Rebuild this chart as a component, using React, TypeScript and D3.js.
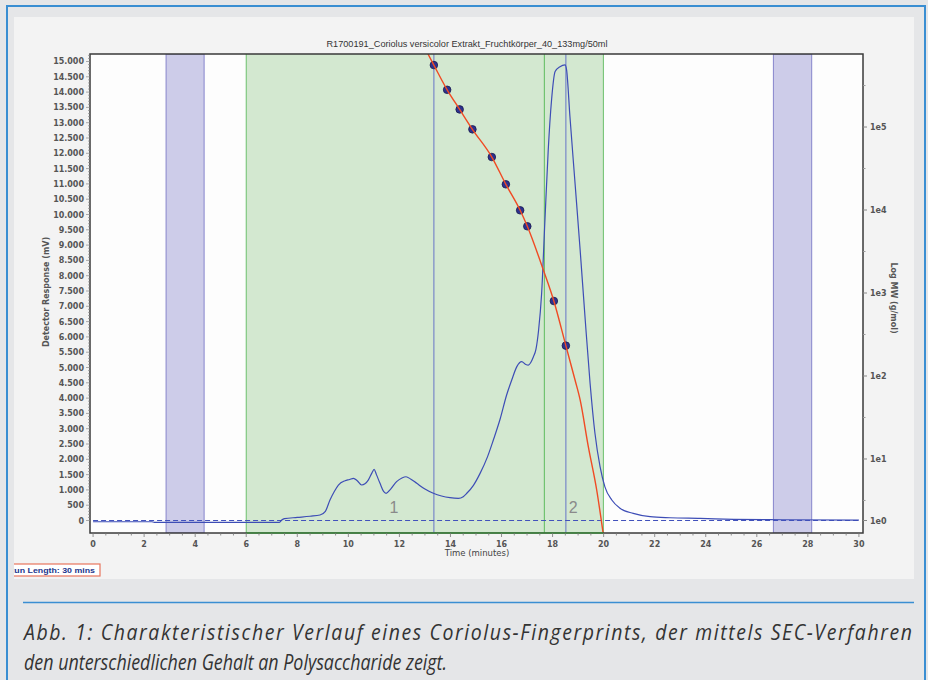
// SEC-Chromatogramm Coriolus versicolor mit Kalibrierkurve (log MW)
import { useRef, useEffect } from 'react'
import * as d3 from 'd3'

const TITLE = 'R1700191_Coriolus versicolor Extrakt_Fruchtkörper_40_133mg/50ml'
const CAPTION_1 = 'Abb. 1: Charakteristischer Verlauf eines Coriolus-Fingerprints, der mittels SEC-Verfahren'
const CAPTION_2 = 'den unterschiedlichen Gehalt an Polysaccharide zeigt.'
const RUN_LENGTH = 'Run Length: 30 mins'

// Detektorsignal: Zeit (min) / mV
const traceTime = [0, 2.3, 2.4, 7.3, 7.39, 7.5, 8.0, 8.5, 8.89, 9.1, 9.28, 9.45, 9.61, 9.87, 10.05, 10.2, 10.35, 10.52, 10.65, 10.78, 10.92, 11.01, 11.1, 11.24, 11.38, 11.48, 11.65, 11.89, 12.1, 12.26, 12.45, 12.68, 13.0, 13.33, 13.65, 13.98, 14.31, 14.5, 14.64, 14.9, 15.16, 15.45, 15.68, 15.94, 16.2, 16.4, 16.6, 16.79, 16.95, 17.05, 17.25, 17.35, 17.45, 17.57, 17.7, 17.83, 17.96, 18.1, 18.29, 18.49, 18.55, 18.68, 18.88, 19.08, 19.27, 19.47, 19.66, 19.86, 20.05, 20.32, 20.64, 21.16, 21.82, 22.6, 23.78, 25.1, 27, 30]
const traceMv = [-40, -40, -60, -60, 15, 60, 100, 140, 180, 300, 670, 950, 1160, 1300, 1340, 1380, 1300, 1160, 1200, 1320, 1550, 1670, 1500, 1215, 950, 890, 1020, 1270, 1390, 1430, 1350, 1215, 1030, 890, 800, 745, 725, 780, 890, 1150, 1540, 2080, 2630, 3300, 4100, 4590, 5030, 5190, 5100, 5080, 5350, 5600, 6200, 7400, 9800, 12110, 13740, 14670, 14830, 14890, 14720, 13200, 11020, 8840, 6660, 4480, 2850, 1760, 1100, 670, 400, 235, 125, 90, 70, 40, 25, 15]

// Kalibrierstandards (Punkte)
const stdTime = [13.35, 13.87, 14.36, 14.86, 15.62, 16.17, 16.73, 17.01, 18.05, 18.52]
const stdMw = [558000, 281000, 163000, 93800, 43500, 20400, 9920, 6370, 801, 232]

// Kalibrierkurve (Fit)
const fitTime = [13.12, 13.35, 13.87, 14.36, 14.86, 15.62, 16.17, 16.73, 17.01, 17.64, 18.05, 18.52, 18.88, 19.08, 19.4, 19.73, 19.98]
const fitMw = [758000, 558000, 281000, 163000, 93800, 43500, 20400, 9920, 6370, 1890, 801, 232, 89.5, 51.4, 14.1, 4.2, 1.28]

const timeTicks = [0, 2, 4, 6, 8, 10, 12, 14, 16, 18, 20, 22, 24, 26, 28, 30]
const mvTicks = d3.range(0, 15001, 500)
const mwTicks = [1e1, 1e2, 1e3, 1e4, 1e5]
const mwMinor = [10 ** 0.5, 10 ** 1.5, 10 ** 2.5, 10 ** 3.5, 10 ** 4.5, 10 ** 5.5]

// Peakbereiche, Marker, ausgeschlossene Bereiche
const peakFrom = [6, 17.68]
const peakTo = [17.68, 19.99]
const peakNames = ['1', '2']
const peakLabelTime = [11.79, 18.81]
const markerTimes = [13.35, 18.52]
const bandFrom = [2.86, 26.65]
const bandTo = [4.35, 28.15]

const fmtMv = (v: number) => (v >= 1000 ? d3.format(',')(v).replace(',', '.') : String(v))

export default function App() {
  const svgRef = useRef<SVGSVGElement>(null)

  useEffect(() => {
    const W = 928, H = 680
    const pl = 90, pr = 863, pt = 54, pb = 533
    const svg = d3.select(svgRef.current).attr('width', W).attr('height', H)
    svg.selectAll('*').remove()

    const x = d3.scaleLinear().domain([-0.12, 30.16]).range([pl, pr])
    const yL = d3.scaleLinear().domain([-408, 15245]).range([pb, pt])
    const yR = d3.scaleLog().domain([10 ** 0.108, 10 ** 5.88]).range([pb, pt])

    const tickFont = "'DejaVu Sans', sans-serif"

    // Hintergrund + Rahmen
    svg.append('rect').attr('width', W).attr('height', H).attr('fill', '#e5e6e8')
    svg.append('path').attr('d', `M7,${H} V6 H925 V${H}`).attr('fill', 'none')
      .attr('stroke', '#3a8ed2').attr('stroke-width', 2)
    svg.append('rect').attr('x', 14).attr('y', 17).attr('width', 900).attr('height', 562).attr('fill', '#f3f3f3')
    svg.append('rect').attr('x', pl).attr('y', pt).attr('width', pr - pl).attr('height', pb - pt).attr('fill', '#fdfdfd')

    const g = svg.append('g')
    const clip = svg.append('clipPath').attr('id', 'plotclip')
    clip.append('rect').attr('x', pl).attr('y', pt).attr('width', pr - pl).attr('height', pb - pt)
    g.attr('clip-path', 'url(#plotclip)')

    // ausgeschlossene Bereiche (violett)
    bandFrom.forEach((f, i) => {
      g.append('rect').attr('x', x(f)).attr('y', pt).attr('width', x(bandTo[i]) - x(f)).attr('height', pb - pt)
        .attr('fill', '#cdcce9').attr('stroke', '#8785cc').attr('stroke-width', 1)
    })

    // Peakbereiche (grün)
    peakFrom.forEach((f, i) => {
      g.append('rect').attr('x', x(f)).attr('y', pt - 2).attr('width', x(peakTo[i]) - x(f)).attr('height', pb - pt + 2)
        .attr('fill', '#d3e8d0').attr('stroke', '#6cc06c').attr('stroke-width', 1)
    })

    // Markerlinien
    markerTimes.forEach(t => {
      g.append('line').attr('x1', x(t)).attr('x2', x(t)).attr('y1', pt).attr('y2', pb)
        .attr('stroke', '#7f8fc8').attr('stroke-width', 1.3)
    })

    // Basislinie gestrichelt
    g.append('line').attr('x1', x(0)).attr('x2', x(30)).attr('y1', yL(0)).attr('y2', yL(0))
      .attr('stroke', '#4252bc').attr('stroke-width', 1.2).attr('stroke-dasharray', '5,3')

    // Detektorsignal
    const trace = traceTime.map((t, i) => [t, traceMv[i]] as [number, number])
    g.append('path').datum(trace)
      .attr('d', d3.line<[number, number]>().x(d => x(d[0])).y(d => yL(d[1])).curve(d3.curveMonotoneX))
      .attr('fill', 'none').attr('stroke', '#3d4db6').attr('stroke-width', 1.2)

    // Peaknummern
    peakNames.forEach((n, i) => {
      g.append('text').attr('x', x(peakLabelTime[i])).attr('y', 513).attr('text-anchor', 'middle')
        .attr('font-family', "'Liberation Sans', sans-serif").attr('font-size', 16).attr('fill', '#8a8a8a').text(n)
    })

    // Kalibrierstandards
    g.selectAll('circle.std').data(stdTime).join('circle').attr('class', 'std')
      .attr('cx', d => x(d)).attr('cy', (d, i) => yR(stdMw[i])).attr('r', 3.8)
      .attr('fill', '#2c3190').attr('stroke', '#1b1b4d').attr('stroke-width', 0.8)

    // Kalibrierkurve
    const fit = fitTime.map((t, i) => [t, fitMw[i]] as [number, number])
    g.append('path').datum(fit)
      .attr('d', d3.line<[number, number]>().x(d => x(d[0])).y(d => yR(d[1])).curve(d3.curveMonotoneX))
      .attr('fill', 'none').attr('stroke', '#f04a23').attr('stroke-width', 1.4)

    // Plotrahmen
    svg.append('rect').attr('x', pl).attr('y', pt).attr('width', pr - pl).attr('height', pb - pt)
      .attr('fill', 'none').attr('stroke', '#3a3a3a').attr('stroke-width', 1.5)
    peakFrom.forEach((f, i) => {
      svg.append('line').attr('x1', x(f)).attr('x2', x(peakTo[i])).attr('y1', pb).attr('y2', pb)
        .attr('stroke', '#3f8a3f').attr('stroke-width', 1.5)
    })

    // X-Achse
    const xa = svg.append('g').attr('font-family', tickFont).attr('font-size', 8).attr('font-weight', 'bold').attr('fill', '#555')
    d3.range(0, 30.01, 0.5).forEach(t => {
      const major = timeTicks.includes(t)
      xa.append('line').attr('x1', x(t)).attr('x2', x(t)).attr('y1', pb).attr('y2', pb + (major ? 4 : 2.5))
        .attr('stroke', '#777').attr('stroke-width', 0.8)
    })
    timeTicks.forEach(t => {
      xa.append('text').attr('x', x(t)).attr('y', 547).attr('text-anchor', 'middle').text(t)
    })
    svg.append('text').attr('x', 477).attr('y', 556).attr('text-anchor', 'middle')
      .attr('font-family', tickFont).attr('font-size', 8.5).attr('fill', '#444').text('Time (minutes)')

    // linke Achse
    const ya = svg.append('g').attr('font-family', tickFont).attr('font-size', 8).attr('font-weight', 'bold').attr('fill', '#555')
    d3.range(0, 15201, 100).forEach(v => {
      const major = v % 500 === 0
      ya.append('line').attr('x1', pl - (major ? 4 : 2)).attr('x2', pl).attr('y1', yL(v)).attr('y2', yL(v))
        .attr('stroke', '#888').attr('stroke-width', 0.7)
    })
    mvTicks.forEach(v => {
      ya.append('text').attr('x', 84).attr('y', yL(v) + 3).attr('text-anchor', 'end').text(fmtMv(v))
    })
    svg.append('text').attr('transform', `translate(49,292) rotate(-90)`).attr('text-anchor', 'middle')
      .attr('font-family', tickFont).attr('font-size', 8).attr('font-weight', 'bold').attr('fill', '#555')
      .text('Detector Response (mV)')

    // rechte Achse (log MW)
    const ra = svg.append('g').attr('font-family', tickFont).attr('font-size', 8).attr('font-weight', 'bold').attr('fill', '#555')
    mwTicks.forEach(v => {
      ra.append('line').attr('x1', pr).attr('x2', pr + 4).attr('y1', yR(v)).attr('y2', yR(v)).attr('stroke', '#888')
      ra.append('text').attr('x', 870).attr('y', yR(v) + 3).text('1e' + Math.round(Math.log10(v)))
    })
    mwMinor.forEach(v => {
      ra.append('line').attr('x1', pr).attr('x2', pr + 2.5).attr('y1', yR(v)).attr('y2', yR(v)).attr('stroke', '#999')
    })
    // 1e0 an der Basislinie
    ra.append('line').attr('x1', pr).attr('x2', pr + 4).attr('y1', yL(0)).attr('y2', yL(0)).attr('stroke', '#888')
    ra.append('text').attr('x', 870).attr('y', yL(0) + 3).text('1e0')
    svg.append('text').attr('transform', `translate(891,298) rotate(90)`).attr('text-anchor', 'middle')
      .attr('font-family', tickFont).attr('font-size', 8).attr('font-weight', 'bold').attr('fill', '#555')
      .text('Log MW (g/mol)')

    // Titel
    svg.append('text').attr('x', 467).attr('y', 47).attr('text-anchor', 'middle')
      .attr('font-family', "'Liberation Sans', sans-serif").attr('font-size', 9.5).attr('fill', '#333')
      .attr('textLength', 281).attr('lengthAdjust', 'spacingAndGlyphs').text(TITLE)

    // Run Length Box
    const rclip = svg.append('clipPath').attr('id', 'runclip')
    rclip.append('rect').attr('x', 14).attr('y', 17).attr('width', 900).attr('height', 562)
    const rb = svg.append('g').attr('clip-path', 'url(#runclip)')
    rb.append('rect').attr('x', 6).attr('y', 564).attr('width', 94).attr('height', 12)
      .attr('fill', '#fff').attr('stroke', '#e8765e').attr('stroke-width', 1.2)
    rb.append('text').attr('x', 8).attr('y', 573).attr('font-family', "'Liberation Sans', sans-serif")
      .attr('font-size', 8).attr('font-weight', 'bold').attr('fill', '#22358c')
      .attr('textLength', 87).attr('lengthAdjust', 'spacingAndGlyphs').text(RUN_LENGTH)

    // Bildunterschrift: schmale Kursive, erste Zeile im Blocksatz
    svg.append('line').attr('x1', 23).attr('x2', 914).attr('y1', 602.5).attr('y2', 602.5)
      .attr('stroke', '#3a8ed2').attr('stroke-width', 1.5)
    const capFont = "'Open Sans', sans-serif"
    const cap = svg.append('g').attr('font-family', capFont).attr('font-style', 'italic')
      .attr('font-size', 21).attr('fill', '#333')
    const line2 = cap.append('text').attr('x', 24).attr('y', 670).text(CAPTION_2)
    const w2 = (line2.node() as SVGTextElement).getComputedTextLength()
    const squeeze = 423 / w2
    line2.attr('textLength', 423).attr('lengthAdjust', 'spacingAndGlyphs')

    const s1 = (1 + squeeze) / 2
    const l1g = cap.append('g').attr('transform', `scale(${s1},1)`)
    l1g.append('text').attr('x', 24 / s1).attr('y', 640)
      .attr('textLength', 888 / s1).attr('lengthAdjust', 'spacing').text(CAPTION_1)
  }, [])

  return (
    <div style={{ position: 'absolute', left: 0, top: 0 }}>
      <svg ref={svgRef} style={{ display: 'block' }} />
    </div>
  )
}
